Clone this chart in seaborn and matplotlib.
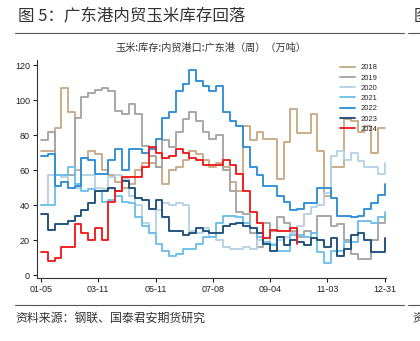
import numpy as np
import pandas as pd
import matplotlib
matplotlib.use("Agg")
import matplotlib.pyplot as plt
from matplotlib.lines import Line2D
import seaborn as sns

# Weekly corn stock at Guangdong domestic-trade ports (10k tonnes)
tick_labels = ["01-05", "03-11", "05-11", "07-08", "09-04", "11-03", "12-31"]
years = ["2018", "2019", "2020", "2021", "2022", "2023", "2024"]

y2018 = [71, 71, 84, 107, 93, 60, 67, 71, 69, 60, 57, 53, 50, 52, 60,
         64, 64, 62, 52, 60, 62, 66, 71, 69, 66, 62, 64, 62, 53, 48,
         85, 77, 82, 78, 78, 55, 76, 95, 81, 81, 92, 71, 45, 62, 62,
         89, 88, 82, 85, 70, 84, 84]
y2019 = [77, 82, 57, 57, 57, 90, 102, 104, 106, 107, 105, 94, 92, 98, 92,
         74, 68, 62, 77, 73, 82, 89, 93, 88, 82, 78, 80, 60,
         48, 36, 35, 24, 16, 30, 25,
         33, 30, 25, 22, 25, 24, 34, 34, 28, 29, 20, 12, 9, 9, 20, 30, 34]
y2020 = [40, 57, 57, 56, 50, 50, 57, 57, 50, 49, 56, 57, 55, 45, 40, 30,
         24, 37, 41, 40, 41, 40, 25, 24, 27, 22, 20, 16, 15, 15, 16, 15,
         20, 21, 18, 20, 22, 24, 28, 35, 39, 40, 47, 68, 71, 66, 70, 65,
         62, 62, 58, 64]
y2021 = [40, 40, 57, 57, 62, 52, 48, 49, 48, 42, 43, 45, 42, 41, 33, 28,
         24, 18, 14, 11, 12, 15, 15, 18, 22, 22, 30, 34, 34, 33, 30, 27,
         22, 19, 17, 14, 14, 23, 23, 22, 24, 13, 7, 14, 14, 19, 19, 31,
         31, 30, 33, 36]
y2022 = [68, 69, 51, 53, 50, 51, 67, 66, 58, 58, 66, 72, 60, 72, 72, 70,
         72, 78, 90, 93, 105, 109, 117, 111, 108, 105, 108, 93, 88, 85,
         73, 62, 57, 51, 51, 45, 42, 37, 38, 41, 41, 50, 50, 44, 34, 34,
         33, 34, 38, 41, 46, 52]
y2023 = [35, 26, 29, 29, 31, 34, 37, 41, 48, 48, 50, 48, 54, 50, 44, 43,
         38, 43, 33, 25, 25, 23, 24, 27, 25, 24, 24, 28, 29, 30, 28, 27,
         24, 18, 14, 22, 17, 20, 19, 17, 21, 20, 16, 21, 11, 15, 23, 24,
         20, 13, 13, 21]
y2024 = [13, 8, 10, 16, 16, 29, 24, 20, 27, 20, 42, 48, 56, 56, 56, 62,
         73, 70, 67, 68, 72, 70, 67, 66, 63, 63, 63, 66, 63, 58, 48, 36,
         30, 21, 26, 25, 25, 27, 18]

series = [y2018, y2019, y2020, y2021, y2022, y2023, y2024]
colors = ["#c9ab87", "#a5a5a5", "#b5d3e5", "#6dc0ea", "#2e8ed6", "#1f4e7a", "#f01c1c"]

frames = []
for yr, vals in zip(years, series):
    frames.append(pd.DataFrame({"week": np.arange(len(vals)), "stock": vals, "year": yr}))
df = pd.concat(frames, ignore_index=True)

sns.set_style("ticks")
plt.rcParams["font.family"] = ["Liberation Sans", "Noto Sans CJK SC", "DejaVu Sans"]
cjk = ["Noto Sans CJK SC", "DejaVu Sans"]

fig = plt.figure(figsize=(4.2, 3.41), dpi=100)
ax = fig.add_axes([37 / 420, 1 - 278 / 341, (386 - 37) / 420, (278 - 60) / 341])

sns.lineplot(data=df, x="week", y="stock", hue="year", hue_order=years,
             palette=colors, drawstyle="steps-post", linewidth=1.35,
             estimator=None, ax=ax)

ax.set_xlim(-0.6, 51.2)
ax.set_ylim(-1.7, 122.9)
ax.set_xticks(np.linspace(0, 51, len(tick_labels)))
ax.set_xticklabels(tick_labels)
ax.set_yticks([0, 20, 40, 60, 80, 100, 120])
ax.set_xlabel("")
ax.set_ylabel("")
ax.tick_params(labelsize=6.5, length=3, width=0.8, colors="#222222", pad=2)
for side in ("left", "bottom"):
    ax.spines[side].set_linewidth(0.8)
    ax.spines[side].set_color("#333333")
sns.despine(ax=ax)

ax.legend(loc="upper left", bbox_to_anchor=((340 - 37) / 349, (278 - 64) / 218),
          frameon=False, fontsize=5.5, handlelength=2.0, labelspacing=0.38,
          handletextpad=0.7, borderaxespad=0, borderpad=0)

# Page header, rule lines and source note
fig.text(18 / 420, 1 - 16 / 341, "图 5：广东港内贸玉米库存回落", fontsize=11.9,
         va="center", ha="left", family=cjk, color="#333333")
fig.add_artist(Line2D([15 / 420, 404 / 420], [1 - 33 / 341] * 2, color="#555555", lw=0.8))
fig.add_artist(Line2D([408 / 420, 1.0], [1 - 33 / 341] * 2, color="#555555", lw=0.8))
fig.text(414 / 420, 1 - 16 / 341, "图", fontsize=11.9, va="center", ha="left",
         family=cjk, color="#333333")
fig.text(211 / 420, 1 - 48 / 341, "玉米:库存:内贸港口:广东港（周）（万吨）",
         fontsize=7.3, va="center", ha="center", family=cjk, color="#333333")
fig.add_artist(Line2D([15 / 420, 404 / 420], [1 - 305 / 341] * 2, color="#555555", lw=0.8))
fig.add_artist(Line2D([408 / 420, 1.0], [1 - 305 / 341] * 2, color="#555555", lw=0.8))
fig.text(15 / 420, 1 - 318 / 341, "资料来源：钢联、国泰君安期货研究", fontsize=8.6,
         va="center", ha="left", family=cjk, color="#333333")
fig.text(412 / 420, 1 - 318 / 341, "资", fontsize=8.6, va="center", ha="left",
         family=cjk, color="#333333")

fig.savefig("out.png", dpi=100, facecolor="white")
